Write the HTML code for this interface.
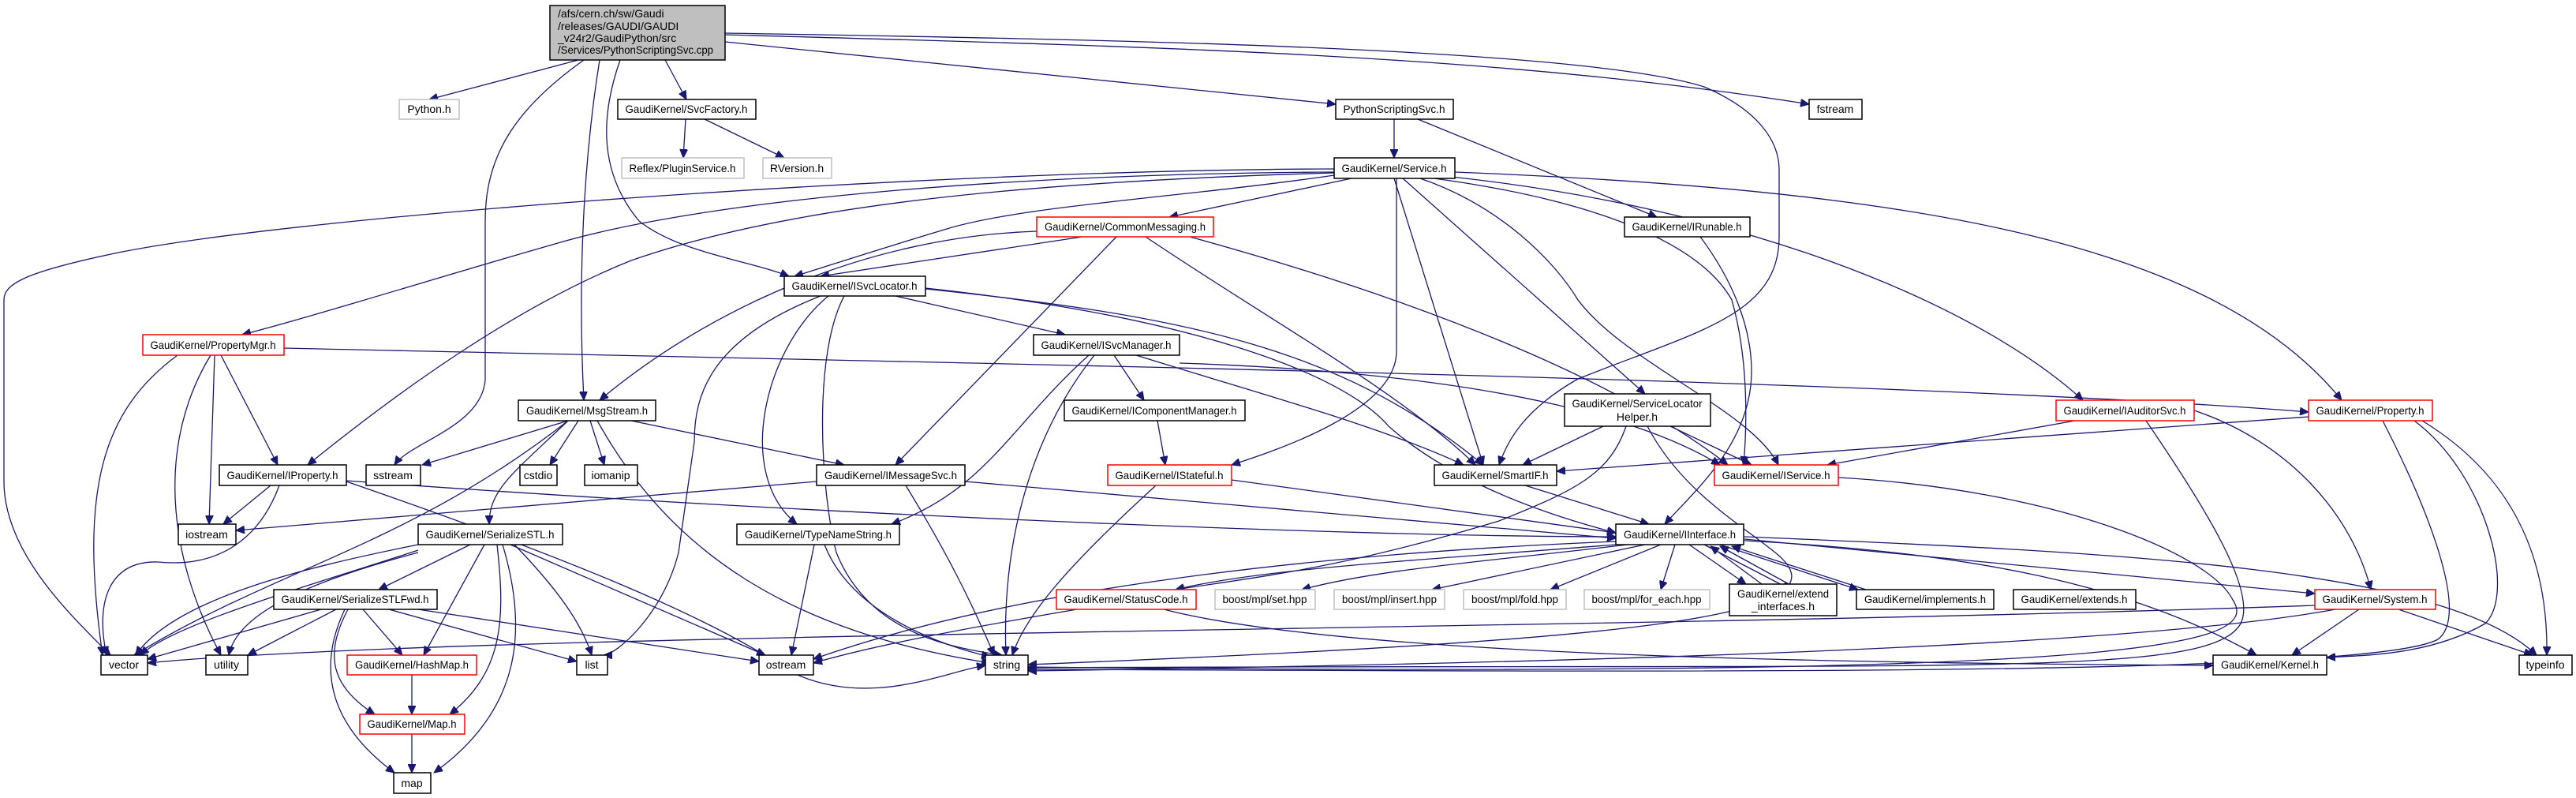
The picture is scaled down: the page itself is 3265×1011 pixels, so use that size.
<!DOCTYPE html>
<html><head><meta charset="utf-8"><style>
html,body{margin:0;padding:0;background:#fff;}
svg{display:block;}
text{font-family:"Liberation Sans",sans-serif;font-size:14px;fill:#000;}
.e{fill:none;stroke:#191970;stroke-width:1.3;marker-end:url(#a);}
.n rect{fill:#fff;stroke:#000;stroke-width:1.5;}
.g rect{fill:#fff;stroke:#bfbfbf;stroke-width:1.5;}
.r rect{fill:#fff;stroke:#ff0000;stroke-width:1.5;}
</style></head><body>
<svg width="3265" height="1011" viewBox="0 0 3265 1011" xmlns="http://www.w3.org/2000/svg">
<defs><marker id="a" markerWidth="12" markerHeight="10" refX="11" refY="5" orient="auto" markerUnits="userSpaceOnUse"><path d="M0,0 L11,5 L0,10 z" fill="#191970" stroke="#191970"/></marker></defs>

<!-- edges -->
<g>
<!-- head -->
<path class="e" d="M733,76 L544,126"/>
<path class="e" d="M740,76 C650,140 615,200 615,280 L615,480 C612,540 520,560 500,589"/>
<path class="e" d="M760,76 C740,200 732,350 740,507"/>
<path class="e" d="M786,76 C760,150 760,220 810,280 C860,320 950,330 1000,350"/>
<path class="e" d="M843,76 L870,126"/>
<path class="e" d="M919,53 L1693,132"/>
<path class="e" d="M919,44 C1500,60 1900,70 2293,132"/>
<path class="e" d="M919,42 C1400,50 2000,60 2160,110 C2230,140 2255,180 2255,215 L2255,300 C2255,400 2150,420 2000,480 C1930,520 1910,560 1900,589"/>
<!-- PythonScriptingSvc -->
<path class="e" d="M1767,151 L1767,200"/>
<path class="e" d="M1797,151 L2100,275"/>
<!-- SvcFactory -->
<path class="e" d="M869,151 L866,200"/>
<path class="e" d="M893,151 L994,200"/>
<!-- Service.h -->
<path class="e" d="M1691,214 C1200,215 400,270 150,320 C30,345 5,360 5,380 L5,610 C5,700 90,780 140,830"/>
<path class="e" d="M1691,218 C1300,220 900,250 700,310 C560,350 400,400 307,424"/>
<path class="e" d="M1691,219 C1300,230 1000,260 800,330 C650,390 500,500 390,589"/>
<path class="e" d="M1713,226 L1482,275"/>
<path class="e" d="M1691,222 C1500,250 1300,260 1200,290 C1100,320 1040,340 1007,350"/>
<path class="e" d="M1767,226 L1880,589"/>
<path class="e" d="M1770,226 L1770,445 C1770,520 1620,570 1561,589"/>
<path class="e" d="M1778,226 L2085,499"/>
<path class="e" d="M1800,226 C1900,260 1970,330 2000,380 C2060,460 2220,520 2254,589"/>
<path class="e" d="M1810,225 C2000,250 2150,300 2195,380 C2215,450 2215,530 2210,589"/>
<path class="e" d="M1820,222 C2200,260 2500,380 2640,507"/>
<path class="e" d="M1844,218 C2400,240 2800,300 2968,507"/>
<!-- IRunable -->
<path class="e" d="M2155,300 C2200,360 2220,420 2220,470 C2220,560 2150,620 2110,664"/>
<!-- CommonMessaging -->
<path class="e" d="M1372,300 L1040,350"/>
<path class="e" d="M1314,293 C1100,300 900,390 760,507"/>
<path class="e" d="M1415,300 L1135,589"/>
<path class="e" d="M1452,300 C1600,400 1780,500 1870,589"/>
<path class="e" d="M1508,300 C1800,380 2050,480 2190,589"/>
<!-- ISvcLocator -->
<path class="e" d="M1135,375 L1350,424"/>
<path class="e" d="M1040,375 C900,430 880,500 880,560 L860,700 C840,780 780,830 765,830"/>
<path class="e" d="M1050,375 C970,440 930,600 1010,664"/>
<path class="e" d="M1070,375 C1030,450 1040,620 1060,700 C1100,800 1200,820 1270,830"/>
<path class="e" d="M1173,366 C1500,400 1700,440 1880,589"/>
<path class="e" d="M1173,365 C1500,400 1700,470 1760,540 C1850,620 1990,660 2048,675"/>
<!-- PropertyMgr -->
<path class="e" d="M360,441 C1200,460 2400,480 2926,522"/>
<path class="e" d="M280,450 L352,589"/>
<path class="e" d="M272,450 L265,664"/>
<path class="e" d="M267,450 C200,560 210,700 280,830"/>
<path class="e" d="M225,450 C130,520 100,620 130,830"/>
<!-- MsgStream -->
<path class="e" d="M720,533 L535,589"/>
<path class="e" d="M733,533 L697,589"/>
<path class="e" d="M748,533 L766,589"/>
<path class="e" d="M800,533 L1070,589"/>
<path class="e" d="M720,533 C650,600 620,620 620,664"/>
<path class="e" d="M720,533 C520,690 350,720 170,830"/>
<path class="e" d="M757,533 C850,700 1000,800 1255,840"/>
<!-- ISvcManager -->
<path class="e" d="M1412,450 L1450,507"/>
<path class="e" d="M1380,450 C1280,540 1250,620 1130,664"/>
<path class="e" d="M1387,450 C1300,560 1270,700 1275,830"/>
<path class="e" d="M1440,450 C1600,500 1750,540 1855,589"/>
<path class="e" d="M1495,460 C1800,470 2050,510 2180,589"/>
<!-- IProperty -->
<path class="e" d="M343,615 L283,664"/>
<path class="e" d="M354,615 C330,680 280,720 200,712 C140,710 120,760 135,830"/>
<path class="e" d="M439,610 C700,700 900,780 1000,850 C1100,900 1200,850 1249,843"/>
<path class="e" d="M439,609 C1000,650 1700,680 2048,680"/>
<!-- IMessageSvc -->
<path class="e" d="M1035,610 L299,672"/>
<path class="e" d="M1148,615 C1200,700 1230,760 1260,830"/>
<path class="e" d="M1223,610 L2048,682"/>
<!-- IComponentManager, IStateful -->
<path class="e" d="M1467,533 L1477,589"/>
<path class="e" d="M1561,608 L2048,675"/>
<path class="e" d="M1465,615 C1350,720 1300,780 1283,830"/>
<!-- SmartIF -->
<path class="e" d="M1933,615 L2090,664"/>
<!-- ServiceLocatorHelper -->
<path class="e" d="M2032,540 L1930,589"/>
<path class="e" d="M2061,540 C2040,600 2000,620 1900,660 C1700,720 1600,730 1490,747"/>
<path class="e" d="M2117,540 L2220,589"/>
<path class="e" d="M2088,540 C2130,620 2200,660 2250,700 C2350,780 2100,810 1303,842"/>
<!-- IService -->
<path class="e" d="M2330,605 C2600,620 2800,700 2830,760 C2870,820 2700,860 1303,845"/>
<!-- IAuditorSvc -->
<path class="e" d="M2630,533 L2316,589"/>
<path class="e" d="M2781,520 C2900,560 2980,650 3005,747"/>
<path class="e" d="M2720,533 C2800,650 2860,750 2840,790 C2800,860 2500,840 1303,846"/>
<!-- Property.h -->
<path class="e" d="M2926,528 L1973,597"/>
<path class="e" d="M3020,533 C3080,650 3130,780 3090,810 C3000,860 2000,850 1303,848"/>
<path class="e" d="M3060,533 C3150,600 3190,750 3150,790 C3080,830 3000,830 2949,833"/>
<path class="e" d="M3070,533 C3180,600 3230,700 3228,830"/>
<!-- IInterface -->
<path class="e" d="M2048,686 C1700,700 1300,740 1031,835"/>
<path class="e" d="M2048,690 C1800,710 1600,720 1490,747"/>
<path class="e" d="M2062,690 C1900,710 1750,720 1650,747"/>
<path class="e" d="M2085,690 L1815,747"/>
<path class="e" d="M2105,690 L1965,747"/>
<path class="e" d="M2123,690 L2105,747"/>
<path class="e" d="M2141,690 L2213,740"/>
<path class="e" d="M2233,740 L2168,692"/>
<path class="e" d="M2160,690 L2270,747"/>
<path class="e" d="M2280,747 L2180,692"/>
<path class="e" d="M2180,690 L2355,747"/>
<path class="e" d="M2365,747 L2195,692"/>
<path class="e" d="M2211,683 L2934,752"/>
<path class="e" d="M2211,685 C2500,700 2700,740 2860,830"/>
<path class="e" d="M2211,680 C2700,700 3100,720 3215,830"/>
<!-- StatusCode -->
<path class="e" d="M1365,772 C1200,800 1100,820 1031,840"/>
<path class="e" d="M1475,772 C1700,830 2300,840 2805,843"/>
<!-- System.h -->
<path class="e" d="M2934,767 C2000,800 600,800 187,840"/>
<path class="e" d="M2960,772 C2700,820 2000,840 1303,850"/>
<path class="e" d="M2990,772 L2905,830"/>
<path class="e" d="M3040,772 L3210,830"/>
<!-- TypeNameString -->
<path class="e" d="M1032,690 L1003,830"/>
<path class="e" d="M1045,690 C1080,780 1200,820 1255,832"/>
<!-- SerializeSTL -->
<path class="e" d="M596,690 L480,747"/>
<path class="e" d="M530,690 C380,720 220,760 172,830"/>
<path class="e" d="M530,697 C400,740 220,790 178,830"/>
<path class="e" d="M530,700 C380,740 300,780 290,830"/>
<path class="e" d="M614,690 L537,830"/>
<path class="e" d="M630,690 C640,780 640,850 570,905"/>
<path class="e" d="M637,690 C670,800 660,900 550,979"/>
<path class="e" d="M652,690 C720,760 740,800 750,830"/>
<path class="e" d="M647,690 L970,830"/>
<!-- SerializeSTLFwd -->
<path class="e" d="M407,772 L187,835"/>
<path class="e" d="M426,772 L314,830"/>
<path class="e" d="M460,772 L510,830"/>
<path class="e" d="M441,772 C410,830 420,870 475,905"/>
<path class="e" d="M437,772 C400,850 420,920 500,979"/>
<path class="e" d="M493,772 L731,838"/>
<path class="e" d="M530,772 L962,838"/>
<path class="e" d="M522,855 L522,905"/>
<path class="e" d="M522,930 L522,979"/>
</g>

<!-- nodes -->
<g><rect x="697" y="7" width="222" height="69" fill="#bfbfbf" stroke="#000" stroke-width="1.5"/>
<text x="707" y="22">/afs/cern.ch/sw/Gaudi</text>
<text x="707" y="38">/releases/GAUDI/GAUDI</text>
<text x="707" y="53">_v24r2/GaudiPython/src</text>
<text x="707" y="68" textLength="197" lengthAdjust="spacingAndGlyphs">/Services/PythonScriptingSvc.cpp</text></g>

<g class="g"><rect x="506" y="126" width="76" height="25"/><text x="544" y="143" text-anchor="middle">Python.h</text></g>
<g class="n"><rect x="783" y="126" width="175" height="25"/><text x="870" y="143" text-anchor="middle" textLength="155" lengthAdjust="spacingAndGlyphs">GaudiKernel/SvcFactory.h</text></g>
<g class="n"><rect x="1693" y="126" width="149" height="25"/><text x="1767" y="143" text-anchor="middle" textLength="129" lengthAdjust="spacingAndGlyphs">PythonScriptingSvc.h</text></g>
<g class="n"><rect x="2293" y="126" width="67" height="25"/><text x="2326" y="143" text-anchor="middle">fstream</text></g>

<g class="g"><rect x="788" y="200" width="155" height="26"/><text x="865" y="218" text-anchor="middle" textLength="135" lengthAdjust="spacingAndGlyphs">Reflex/PluginService.h</text></g>
<g class="g"><rect x="967" y="200" width="87" height="26"/><text x="1010" y="218" text-anchor="middle">RVersion.h</text></g>
<g class="n"><rect x="1691" y="200" width="153" height="26"/><text x="1767" y="218" text-anchor="middle" textLength="133" lengthAdjust="spacingAndGlyphs">GaudiKernel/Service.h</text></g>

<g class="r"><rect x="1314" y="275" width="224" height="25"/><text x="1426" y="292" text-anchor="middle" textLength="204" lengthAdjust="spacingAndGlyphs">GaudiKernel/CommonMessaging.h</text></g>
<g class="n"><rect x="2059" y="275" width="159" height="25"/><text x="2138" y="292" text-anchor="middle" textLength="139" lengthAdjust="spacingAndGlyphs">GaudiKernel/IRunable.h</text></g>

<g class="n"><rect x="994" y="350" width="179" height="25"/><text x="1083" y="367" text-anchor="middle" textLength="159" lengthAdjust="spacingAndGlyphs">GaudiKernel/ISvcLocator.h</text></g>

<g class="r"><rect x="181" y="424" width="179" height="26"/><text x="270" y="442" text-anchor="middle" textLength="159" lengthAdjust="spacingAndGlyphs">GaudiKernel/PropertyMgr.h</text></g>
<g class="n"><rect x="1310" y="424" width="185" height="26"/><text x="1402" y="442" text-anchor="middle" textLength="165" lengthAdjust="spacingAndGlyphs">GaudiKernel/ISvcManager.h</text></g>

<g class="n"><rect x="657" y="507" width="174" height="26"/><text x="744" y="525" text-anchor="middle" textLength="154" lengthAdjust="spacingAndGlyphs">GaudiKernel/MsgStream.h</text></g>
<g class="n"><rect x="1349" y="507" width="229" height="26"/><text x="1463" y="525" text-anchor="middle" textLength="209" lengthAdjust="spacingAndGlyphs">GaudiKernel/IComponentManager.h</text></g>
<g class="n"><rect x="1983" y="499" width="185" height="41"/><text x="2075" y="516" text-anchor="middle" textLength="165" lengthAdjust="spacingAndGlyphs">GaudiKernel/ServiceLocator</text><text x="2075" y="533" text-anchor="middle">Helper.h</text></g>
<g class="r"><rect x="2606" y="507" width="175" height="26"/><text x="2693" y="525" text-anchor="middle" textLength="155" lengthAdjust="spacingAndGlyphs">GaudiKernel/IAuditorSvc.h</text></g>
<g class="r"><rect x="2926" y="507" width="157" height="26"/><text x="3004" y="525" text-anchor="middle" textLength="137" lengthAdjust="spacingAndGlyphs">GaudiKernel/Property.h</text></g>

<g class="n"><rect x="278" y="589" width="161" height="26"/><text x="358" y="607" text-anchor="middle" textLength="141" lengthAdjust="spacingAndGlyphs">GaudiKernel/IProperty.h</text></g>
<g class="n"><rect x="464" y="589" width="69" height="26"/><text x="498" y="607" text-anchor="middle">sstream</text></g>
<g class="n"><rect x="659" y="589" width="47" height="26"/><text x="682" y="607" text-anchor="middle">cstdio</text></g>
<g class="n"><rect x="741" y="589" width="67" height="26"/><text x="774" y="607" text-anchor="middle">iomanip</text></g>
<g class="n"><rect x="1035" y="589" width="188" height="26"/><text x="1129" y="607" text-anchor="middle" textLength="168" lengthAdjust="spacingAndGlyphs">GaudiKernel/IMessageSvc.h</text></g>
<g class="r"><rect x="1404" y="589" width="157" height="26"/><text x="1482" y="607" text-anchor="middle" textLength="137" lengthAdjust="spacingAndGlyphs">GaudiKernel/IStateful.h</text></g>
<g class="n"><rect x="1818" y="589" width="155" height="26"/><text x="1895" y="607" text-anchor="middle" textLength="135" lengthAdjust="spacingAndGlyphs">GaudiKernel/SmartIF.h</text></g>
<g class="r"><rect x="2173" y="589" width="157" height="26"/><text x="2251" y="607" text-anchor="middle" textLength="137" lengthAdjust="spacingAndGlyphs">GaudiKernel/IService.h</text></g>

<g class="n"><rect x="226" y="664" width="73" height="26"/><text x="262" y="682" text-anchor="middle">iostream</text></g>
<g class="n"><rect x="530" y="664" width="183" height="26"/><text x="621" y="682" text-anchor="middle" textLength="163" lengthAdjust="spacingAndGlyphs">GaudiKernel/SerializeSTL.h</text></g>
<g class="n"><rect x="934" y="664" width="206" height="26"/><text x="1037" y="682" text-anchor="middle" textLength="186" lengthAdjust="spacingAndGlyphs">GaudiKernel/TypeNameString.h</text></g>
<g class="n"><rect x="2048" y="664" width="162" height="26"/><text x="2129" y="682" text-anchor="middle" textLength="142" lengthAdjust="spacingAndGlyphs">GaudiKernel/IInterface.h</text></g>

<g class="n"><rect x="347" y="747" width="207" height="25"/><text x="450" y="764" text-anchor="middle" textLength="187" lengthAdjust="spacingAndGlyphs">GaudiKernel/SerializeSTLFwd.h</text></g>
<g class="r"><rect x="1339" y="747" width="177" height="25"/><text x="1427" y="764" text-anchor="middle" textLength="157" lengthAdjust="spacingAndGlyphs">GaudiKernel/StatusCode.h</text></g>
<g class="g"><rect x="1540" y="747" width="127" height="25"/><text x="1603" y="764" text-anchor="middle" textLength="107" lengthAdjust="spacingAndGlyphs">boost/mpl/set.hpp</text></g>
<g class="g"><rect x="1691" y="747" width="140" height="25"/><text x="1761" y="764" text-anchor="middle" textLength="120" lengthAdjust="spacingAndGlyphs">boost/mpl/insert.hpp</text></g>
<g class="g"><rect x="1855" y="747" width="130" height="25"/><text x="1920" y="764" text-anchor="middle" textLength="110" lengthAdjust="spacingAndGlyphs">boost/mpl/fold.hpp</text></g>
<g class="g"><rect x="2008" y="747" width="159" height="25"/><text x="2087" y="764" text-anchor="middle" textLength="139" lengthAdjust="spacingAndGlyphs">boost/mpl/for_each.hpp</text></g>
<g class="n"><rect x="2192" y="740" width="136" height="40"/><text x="2260" y="757" text-anchor="middle" textLength="116" lengthAdjust="spacingAndGlyphs">GaudiKernel/extend</text><text x="2260" y="773" text-anchor="middle">_interfaces.h</text></g>
<g class="n"><rect x="2353" y="747" width="174" height="25"/><text x="2440" y="764" text-anchor="middle" textLength="154" lengthAdjust="spacingAndGlyphs">GaudiKernel/implements.h</text></g>
<g class="n"><rect x="2552" y="747" width="155" height="25"/><text x="2629" y="764" text-anchor="middle" textLength="135" lengthAdjust="spacingAndGlyphs">GaudiKernel/extends.h</text></g>
<g class="r"><rect x="2934" y="747" width="153" height="25"/><text x="3010" y="764" text-anchor="middle" textLength="133" lengthAdjust="spacingAndGlyphs">GaudiKernel/System.h</text></g>

<g class="n"><rect x="128" y="830" width="59" height="25"/><text x="157" y="847" text-anchor="middle">vector</text></g>
<g class="n"><rect x="261" y="830" width="53" height="25"/><text x="287" y="847" text-anchor="middle">utility</text></g>
<g class="r"><rect x="440" y="830" width="164" height="25"/><text x="522" y="847" text-anchor="middle" textLength="144" lengthAdjust="spacingAndGlyphs">GaudiKernel/HashMap.h</text></g>
<g class="n"><rect x="731" y="830" width="39" height="25"/><text x="750" y="847" text-anchor="middle">list</text></g>
<g class="n"><rect x="962" y="830" width="69" height="25"/><text x="996" y="847" text-anchor="middle">ostream</text></g>
<g class="n"><rect x="1249" y="830" width="54" height="25"/><text x="1276" y="847" text-anchor="middle">string</text></g>
<g class="n"><rect x="2805" y="830" width="144" height="25"/><text x="2877" y="847" text-anchor="middle" textLength="124" lengthAdjust="spacingAndGlyphs">GaudiKernel/Kernel.h</text></g>
<g class="n"><rect x="3193" y="830" width="67" height="25"/><text x="3226" y="847" text-anchor="middle">typeinfo</text></g>

<g class="r"><rect x="456" y="905" width="133" height="25"/><text x="522" y="922" text-anchor="middle" textLength="113" lengthAdjust="spacingAndGlyphs">GaudiKernel/Map.h</text></g>
<g class="n"><rect x="499" y="979" width="47" height="26"/><text x="522" y="997" text-anchor="middle">map</text></g>
</svg>
</body></html>
